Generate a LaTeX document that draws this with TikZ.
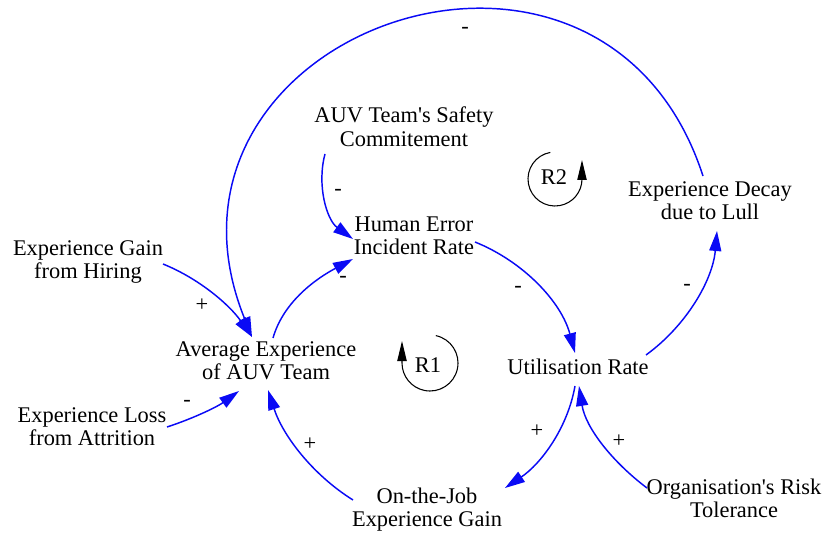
\documentclass[tikz,border=0pt]{standalone}
\usepackage{fontspec}
\setmainfont{Liberation Serif}[Ligatures=TeXOff]
\usetikzlibrary{arrows.meta}
\definecolor{linkblue}{RGB}{10,10,245}
\begin{document}
\begin{tikzpicture}[x=0.75pt,y=0.75pt,
  var/.style={align=center, inner sep=0pt,
    font=\fontsize{16.8}{17.5}\selectfont,
    execute at begin node=\strut, execute at end node=\strut},
  pol/.style={inner sep=0pt, font=\fontsize{16.8}{17.5}\selectfont},
  link/.style={draw=linkblue, line width=1.1pt,
    -{Triangle[length=15pt,width=9pt,fill=linkblue]}},
  looparc/.style={draw=black, line width=0.8pt,
    -{Triangle[length=15pt,width=7pt,fill=black]}}]
\useasboundingbox (0,0) rectangle (824,536);

% variables
\node[var] (safety) at (404,406) {AUV Team's Safety\\Commitement};
\node[var] (human)  at (414,297) {Human Error\\Incident Rate};
\node[var] (decay)  at (710,332) {Experience Decay\\due to Lull};
\node[var] (gain)   at (88,273)  {Experience Gain\\from Hiring};
\node[var] (avg)    at (266,172) {Average Experience\\of AUV Team};
\node[var] (loss)   at (92,106)  {Experience Loss\\from Attrition};
\node[var] (util)   at (578,166) {Utilisation Rate};
\node[var] (ojt)    at (427,25)  {On-the-Job\\Experience Gain};
\node[var] (risk)   at (734,34)  {Organisation's Risk\\Tolerance};

% causal links
\draw[link] ([shift={(-7,28)}]decay.center) to[out=108,in=112,looseness=1.76] ([shift={(-14,27)}]avg.center);
\draw[link] ([shift={(-79,-24)}]safety.center) to[out=-105,in=144,looseness=0.93] ([shift={(-61,0)}]human.center);
\draw[link] ([shift={(7,26)}]avg.center) to[out=74,in=208,looseness=0.89] ([shift={(-61,-20)}]human.center);
\draw[link] ([shift={(61,-3)}]human.center) to[out=-22,in=105,looseness=0.9] ([shift={(-3,17)}]util.center);
\draw[link] ([shift={(68,15)}]util.center) to[out=36,in=-95,looseness=0.89] ([shift={(7,-27)}]decay.center);
\draw[link] ([shift={(75,-1)}]gain.center) to[out=-22,in=125,looseness=0.87] ([shift={(-14,27)}]avg.center);
\draw[link] ([shift={(75,3)}]loss.center) to[out=18,in=216,looseness=0.86] ([shift={(-27,-27)}]avg.center);
\draw[link] ([shift={(-74,11)}]ojt.center) to[out=148,in=-72,looseness=0.88] ([shift={(2,-26)}]avg.center);
\draw[link] ([shift={(-3,-16)}]util.center) to[out=-100,in=34,looseness=0.89] ([shift={(78,23)}]ojt.center);
\draw[link] ([shift={(-87,14)}]risk.center) to[out=143,in=-81,looseness=0.89] ([shift={(1,-16)}]util.center);

% link polarities
\node[pol] (p1)  at (465,506) {-};
\node[pol] (p2)  at (338,344) {-};
\node[pol] (p3)  at (343,257) {-};
\node[pol] (p4)  at (518,247) {-};
\node[pol] (p5)  at (687,249) {-};
\node[pol] (p6)  at (202,231) {+};
\node[pol] (p7)  at (187,133) {-};
\node[pol] (p8)  at (310,92)  {+};
\node[pol] (p9)  at (537,105) {+};
\node[pol] (p10) at (619,95)  {+};

% reinforcing loop markers
\coordinate (r1c) at (430,173);
\coordinate (r2c) at (555,357);
\node[pol] (r1) at (428,171) {R1};
\node[pol] (r2) at (554,359) {R2};
\draw[looparc] ([shift={(78:28)}]r1c) arc[start angle=78,end angle=-180,radius=28] -- ++(0,22);
\draw[looparc] ([shift={(100:27)}]r2c) arc[start angle=100,end angle=360,radius=27] -- ++(0,19);
\end{tikzpicture}
\end{document}
